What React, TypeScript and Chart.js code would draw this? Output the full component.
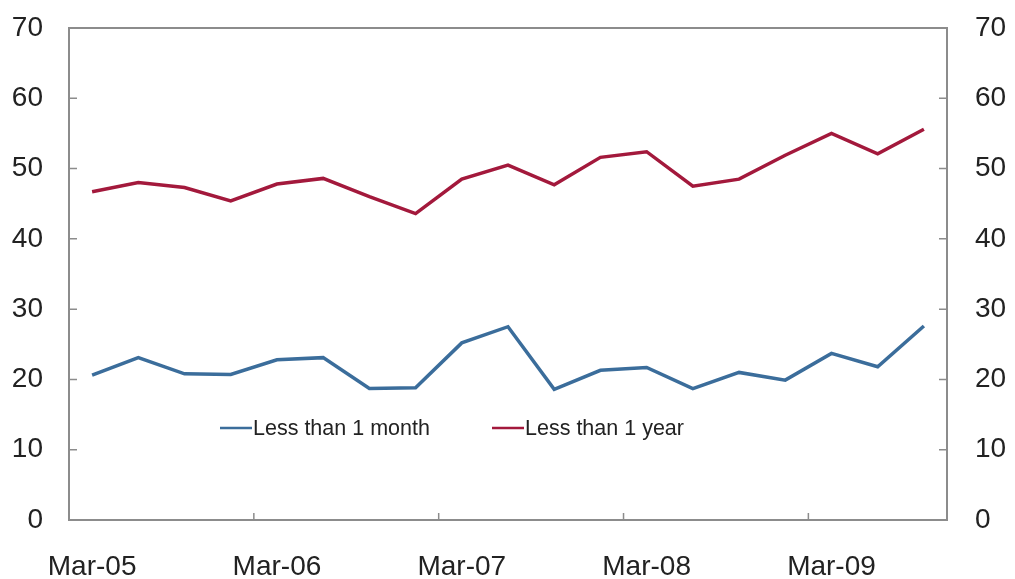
import React, { useEffect, useRef } from "react";
import { Chart, registerables } from "chart.js";

Chart.register(...registerables);

const categories = [
  "Mar-05", "Jun-05", "Sep-05", "Dec-05",
  "Mar-06", "Jun-06", "Sep-06", "Dec-06",
  "Mar-07", "Jun-07", "Sep-07", "Dec-07",
  "Mar-08", "Jun-08", "Sep-08", "Dec-08",
  "Mar-09", "Jun-09", "Sep-09",
];

const lessThanMonth = [
  20.6, 23.1, 20.8, 20.7, 22.8, 23.1, 18.7, 18.8, 25.2, 27.5,
  18.6, 21.3, 21.7, 18.7, 21.0, 19.9, 23.7, 21.8, 27.6,
];

const lessThanYear = [
  46.7, 48.0, 47.3, 45.4, 47.8, 48.6, 46.0, 43.6, 48.5, 50.5,
  47.7, 51.6, 52.4, 47.5, 48.5, 51.9, 55.0, 52.1, 55.6,
];

const yTicks = [0, 10, 20, 30, 40, 50, 60, 70];
const seriesNames = ["Less than 1 month", "Less than 1 year"];
const seriesColors = ["#3b6d9b", "#a3193c"];

const FONT = "'Liberation Sans', Arial, sans-serif";
const TEXT = "#222222";
const FRAME = "#8c8c8c";

const framePlugin = {
  id: "frame",
  beforeDatasetsDraw(chart: any) {
    const { ctx, chartArea: a } = chart;
    ctx.save();
    ctx.strokeStyle = FRAME;
    ctx.lineWidth = 2;
    ctx.strokeRect(a.left, a.top, a.right - a.left, a.bottom - a.top);
    ctx.lineWidth = 1.5;
    const y = chart.scales.y;
    yTicks.forEach((v) => {
      if (v === 0 || v === 70) return;
      const py = y.getPixelForValue(v);
      ctx.beginPath();
      ctx.moveTo(a.left - 1, py);
      ctx.lineTo(a.left + 8, py);
      ctx.moveTo(a.right - 8, py);
      ctx.lineTo(a.right + 1, py);
      ctx.stroke();
    });
    const x = chart.scales.x;
    for (let i = 4; i < categories.length; i += 4) {
      const px = (x.getPixelForValue(i - 1) + x.getPixelForValue(i)) / 2;
      ctx.beginPath();
      ctx.moveTo(px, a.bottom);
      ctx.lineTo(px, a.bottom - 7);
      ctx.stroke();
    }
    ctx.restore();
  },
};

const legendPlugin = {
  id: "customLegend",
  afterDatasetsDraw(chart: any) {
    const { ctx, chartArea: a } = chart;
    ctx.save();
    ctx.font = `21.5px ${FONT}`;
    ctx.textBaseline = "middle";
    ctx.fillStyle = TEXT;
    const cy = a.top + 400;
    const starts = [a.left + 151, a.left + 423];
    seriesNames.forEach((name, i) => {
      const sx = starts[i];
      ctx.strokeStyle = seriesColors[i];
      ctx.lineWidth = 2.5;
      ctx.beginPath();
      ctx.moveTo(sx, cy);
      ctx.lineTo(sx + 32, cy);
      ctx.stroke();
      ctx.fillText(name, sx + 33, cy + 1);
    });
    ctx.restore();
  },
};

const fitY = (w: number) => (s: any) => {
  s.width = w;
  s.paddingTop = 0;
  s.paddingBottom = 0;
};

export default function App() {
  const ref = useRef<HTMLCanvasElement | null>(null);

  useEffect(() => {
    document.body.style.margin = "0";
    const canvas = ref.current;
    if (!canvas) return;
    const chart = new Chart(canvas, {
      type: "line",
      data: {
        labels: categories,
        datasets: [
          {
            label: seriesNames[0],
            data: lessThanMonth,
            borderColor: seriesColors[0],
            backgroundColor: seriesColors[0],
            borderWidth: 3.5,
            pointRadius: 0,
            tension: 0,
            yAxisID: "y",
          },
          {
            label: seriesNames[1],
            data: lessThanYear,
            borderColor: seriesColors[1],
            backgroundColor: seriesColors[1],
            borderWidth: 3.5,
            pointRadius: 0,
            tension: 0,
            yAxisID: "y",
          },
        ],
      },
      options: {
        animation: false,
        responsive: true,
        maintainAspectRatio: false,
        layout: { padding: { top: 28, left: 0, right: 0, bottom: 0 } },
        plugins: {
          legend: { display: false },
          tooltip: { enabled: false },
        },
        scales: {
          x: {
            type: "category",
            offset: true,
            grid: { display: false, drawTicks: false, offset: true },
            border: { display: false },
            ticks: {
              autoSkip: false,
              maxRotation: 0,
              padding: 30,
              color: TEXT,
              font: { family: FONT, size: 28 },
              callback: (_v: any, idx: number) => (idx % 4 === 0 ? categories[idx] : ""),
            },
            afterFit: (s: any) => {
              s.height = 59;
              s.paddingLeft = 0;
              s.paddingRight = 0;
            },
          },
          y: {
            position: "left",
            min: 0,
            max: 70,
            grid: { display: false, drawTicks: false },
            border: { display: false },
            ticks: {
              stepSize: 10,
              padding: 26,
              color: TEXT,
              font: { family: FONT, size: 28 },
            },
            afterFit: fitY(69),
          },
          y2: {
            position: "right",
            min: 0,
            max: 70,
            grid: { display: false, drawTicks: false },
            border: { display: false },
            ticks: {
              stepSize: 10,
              padding: 28,
              color: TEXT,
              font: { family: FONT, size: 28 },
            },
            afterFit: fitY(68),
          },
        },
      },
      plugins: [framePlugin, legendPlugin],
    });
    return () => chart.destroy();
  }, []);

  return (
    <div style={{ width: 1015, height: 579, position: "relative" }}>
      <canvas ref={ref} />
    </div>
  );
}
